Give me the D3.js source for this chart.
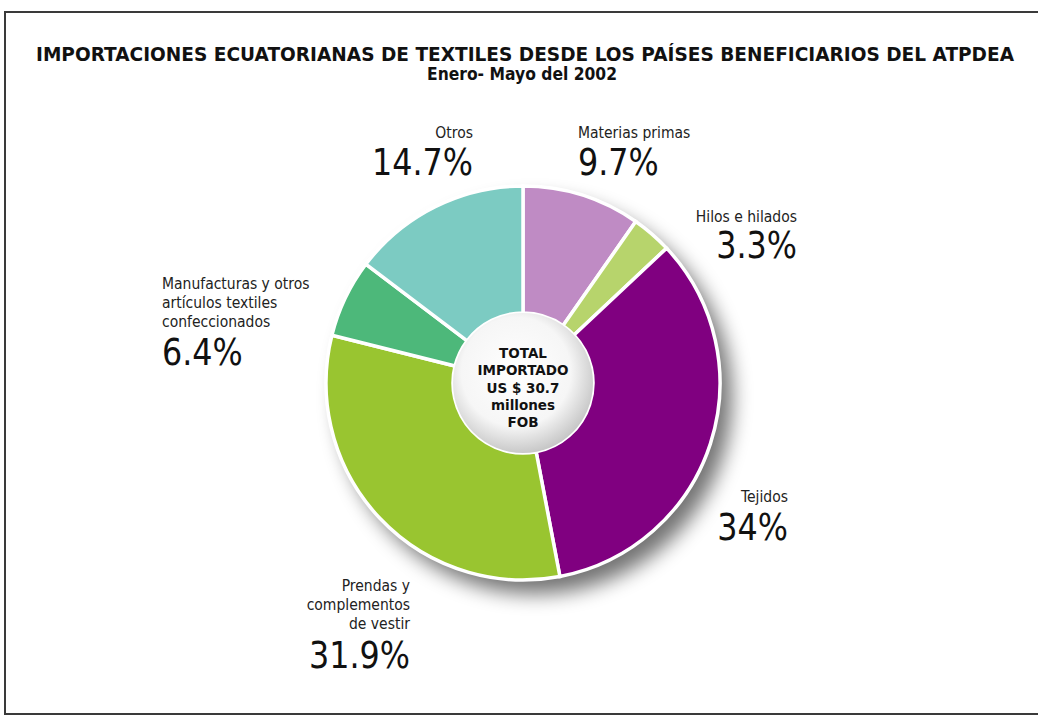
<!DOCTYPE html>
<html><head><meta charset="utf-8">
<script src="https://cdn.jsdelivr.net/npm/d3@7"></script>
<style>body{margin:0;background:#fff}svg{display:block}</style>
</head><body>
<script>
const categories = ["Materias primas","Hilos e hilados","Tejidos","Prendas y complementos de vestir","Manufacturas y otros artículos textiles confeccionados","Otros"];
const values = [9.7, 3.3, 34, 31.9, 6.4, 14.7];
const pctLabels = ["9.7%","3.3%","34%","31.9%","6.4%","14.7%"];
const labelLines = [["Materias primas"],["Hilos e hilados"],["Tejidos"],["Prendas y","complementos","de vestir"],["Manufacturas y otros","artículos textiles","confeccionados"],["Otros"]];
const colors = ["#bf8bc4","#b7d46c","#800080","#99c530","#4db87a","#7ccbc2"];
const titleLines = ["IMPORTACIONES ECUATORIANAS DE TEXTILES DESDE LOS PAÍSES BENEFICIARIOS DEL ATPDEA","Enero- Mayo del 2002"];
const centerLines = ["TOTAL","IMPORTADO","US $ 30.7","millones","FOB"];

const W=1038,H=717;
const svg=d3.select("body").append("svg").attr("width",W).attr("height",H);
const defs=svg.append("defs");
const f=defs.append("filter").attr("id","sh").attr("x","-30%").attr("y","-30%").attr("width","160%").attr("height","160%");
f.append("feGaussianBlur").attr("in","SourceAlpha").attr("stdDeviation",10);
f.append("feOffset").attr("dx",12).attr("dy",14).attr("result","b");
f.append("feComponentTransfer").append("feFuncA").attr("type","linear").attr("slope",0.55);
const rg=defs.append("radialGradient").attr("id","hole").attr("cx","45%").attr("cy","42%").attr("r","60%");
rg.append("stop").attr("offset","0%").attr("stop-color","#ffffff");
rg.append("stop").attr("offset","65%").attr("stop-color","#f6f6f6");
rg.append("stop").attr("offset","100%").attr("stop-color","#c4c4c4");

svg.append("rect").attr("x",5).attr("y",12).attr("width",W+10).attr("height",702)
  .attr("fill","#fff").attr("stroke","#3a3a3a").attr("stroke-width",2);

// title
svg.append("text").attr("x",525).attr("y",61).attr("text-anchor","middle")
  .attr("font-family","DejaVu Sans").attr("font-weight","bold").attr("font-size",19)
  .attr("textLength",978).attr("lengthAdjust","spacingAndGlyphs").attr("fill","#111").text(titleLines[0]);
svg.append("text").attr("x",522).attr("y",80).attr("text-anchor","middle")
  .attr("font-family","DejaVu Sans").attr("font-weight","bold").attr("font-size",18)
  .attr("textLength",190).attr("lengthAdjust","spacingAndGlyphs").attr("fill","#111").text(titleLines[1]);

const cx=523, cy=383, R=197, r0=70;
const g=svg.append("g").attr("transform",`translate(${cx},${cy})`);
const pie=d3.pie().sort(null).value(d=>d)(values);
const arc=d3.arc().innerRadius(r0).outerRadius(R);
// shadow
g.append("circle").attr("r",R).attr("fill","#000").attr("filter","url(#sh)");
g.append("circle").attr("r",R).attr("fill","#fff");
g.selectAll("path.s").data(pie).join("path").attr("class","s")
  .attr("d",arc).attr("fill",(d,i)=>colors[i]).attr("stroke","#fff").attr("stroke-width",3.5);
g.append("circle").attr("r",r0).attr("fill","url(#hole)");
const ct=g.append("text").attr("text-anchor","middle").attr("font-family","DejaVu Sans")
  .attr("font-weight","bold").attr("font-size",13.5).attr("fill","#111");
centerLines.forEach((t,i)=>ct.append("tspan").attr("x",0).attr("y",-25+i*17.3).text(t));

// labels: [x, anchor, firstBaseline, pctBaseline]
const pos=[[578,"start",138,175],[797,"end",222,258],[788,"end",502,540],[410,"end",591,668],[162,"start",289,365],[473,"end",138,175]];
pie.forEach((d,i)=>{
  const [x,anc,y0,yp]=pos[i];
  const gg=svg.append("g").attr("transform",`translate(${x},0) scale(0.9,1)`);
  labelLines[i].forEach((t,j)=>{
    gg.append("text").attr("x",0).attr("y",y0+j*19).attr("text-anchor",anc)
      .attr("font-family","DejaVu Sans").attr("font-size",15.5).attr("fill","#222").text(t);
  });
  const gp=svg.append("g").attr("transform",`translate(${x},0) scale(0.86,1)`);
  gp.append("text").attr("x",0).attr("y",yp).attr("text-anchor",anc)
    .attr("font-family","DejaVu Sans").attr("font-size",37).attr("fill","#111").text(pctLabels[i]);
});
</script>
</body></html>
